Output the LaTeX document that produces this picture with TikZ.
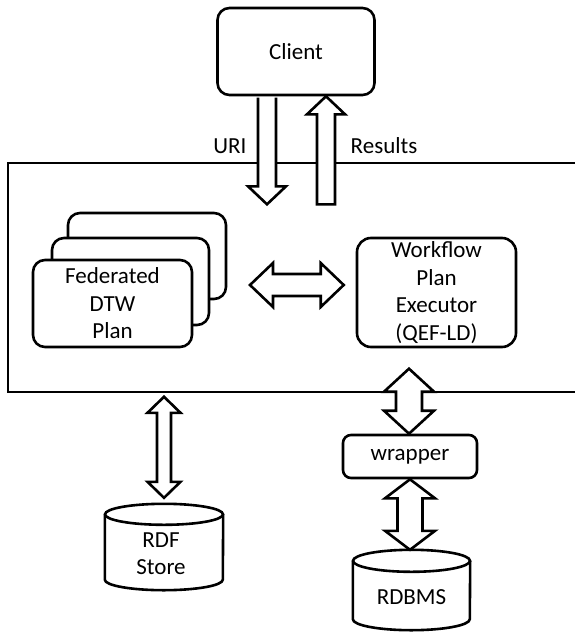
\documentclass[tikz,border=0pt]{standalone}
\usepackage{fontspec}
\setmainfont{Carlito}
\usetikzlibrary{calc}
\pgfdeclarelayer{bg}
\pgfsetlayers{bg,main}

% vertical double block arrow: #1 top tip, #2 bottom tip, #3 shaft half width, #4 head half width, #5 head length
\newcommand\vdblarrow[5]{%
  \draw[blockarrow] (#1) -- ($(#1)+(#4,#5)$) -- ($(#1)+(#3,#5)$) -- ($(#2)+(#3,-#5)$)
    -- ($(#2)+(#4,-#5)$) -- (#2) -- ($(#2)+(-#4,-#5)$) -- ($(#2)+(-#3,-#5)$)
    -- ($(#1)+(-#3,#5)$) -- ($(#1)+(-#4,#5)$) -- cycle;}
% horizontal double block arrow: #1 left tip, #2 right tip
\newcommand\hdblarrow[5]{%
  \draw[blockarrow] (#1) -- ($(#1)+(#5,-#4)$) -- ($(#1)+(#5,-#3)$) -- ($(#2)+(-#5,-#3)$)
    -- ($(#2)+(-#5,-#4)$) -- (#2) -- ($(#2)+(-#5,#4)$) -- ($(#2)+(-#5,#3)$)
    -- ($(#1)+(#5,#3)$) -- ($(#1)+(#5,#4)$) -- cycle;}
% database cylinder drawn around node #1, ellipse radii #2 and #3
\newcommand\dbcylinder[3]{%
  \draw[outline,fill=white] ($(#1.north west)+(0,#3)$) -- ($(#1.south west)+(0,-#3)$)
    arc[start angle=180, end angle=0, x radius=#2, y radius=#3] -- ($(#1.north east)+(0,#3)$);
  \draw[outline] ($(#1.north)+(0,#3)$) ellipse[x radius=#2, y radius=#3];}

\begin{document}
\begin{tikzpicture}[x=1pt,y=-1pt,
  font=\fontsize{23}{27.5}\selectfont,
  outline/.style={draw=black, line width=2.6pt},
  rbox/.style={outline, fill=white, rounded corners=12pt, inner sep=0pt, align=center},
  blockarrow/.style={outline, fill=white, line join=miter},
  txt/.style={inner sep=0pt, align=center}]
\useasboundingbox (0,0) rectangle (575,632);

% enclosing frame, open on the right
\begin{pgfonlayer}{bg}
\draw[outline] (576,163) -- (8,163) -- (8,392) -- (576,392);
\end{pgfonlayer}

% components
\node[rbox, minimum width=157pt, minimum height=87pt] (client) at (296,51.5) {Client};
\node[rbox, minimum width=158pt, minimum height=86pt] (fed3) at (147,256) {};
\node[rbox, minimum width=157pt, minimum height=87pt] (fed2) at (130.5,281.5) {};
\node[rbox, minimum width=159pt, minimum height=87pt] (fed1) at (112.5,303.5) {Federated\\DTW\\Plan};
\node[rbox, minimum width=159pt, minimum height=109pt, rounded corners=14pt] (wfe) at (436.5,292.5)
  {Workflow\\Plan\\Executor\\(QEF-LD)};
\node[rbox, minimum width=134pt, minimum height=43pt, rounded corners=8pt] (wrapper) at (410,456.5) {wrapper};

% databases
\node[minimum width=118pt, minimum height=86pt, inner sep=0pt] (rdf) at (164,547) {};
\dbcylinder{rdf}{59}{10.5}
\node[txt] (rdftxt) at ($(rdf.center)+(-3,6.5)$) {RDF\\Store};
\node[minimum width=117pt, minimum height=80pt, inner sep=0pt] (rdbms) at (411.5,590) {};
\dbcylinder{rdbms}{58.5}{11}
\node[txt] (rdbmstxt) at ($(rdbms.center)+(0,7)$) {RDBMS};

% labels on the client requests
\node[txt] (uri) at (230,146) {URI};
\node[txt] (results) at (384,146) {Results};

% request arrow (down) from the client
\coordinate (uriTop) at ($(client.south)+(-29,1.3)$);
\coordinate (uriTip) at ($(client.south)+(-29,108)$);
\draw[blockarrow] ($(uriTop)+(-9,0)$) -- ($(uriTip)+(-9,-18)$) -- ($(uriTip)+(-19,-18)$) -- (uriTip)
  -- ($(uriTip)+(19,-18)$) -- ($(uriTip)+(9,-18)$) -- ($(uriTop)+(9,0)$);

% results arrow (up) to the client
\coordinate (resTip) at ($(client.south)+(30,0)$);
\coordinate (resBase) at ($(client.south)+(30,108)$);
\draw[blockarrow] ($(resBase)+(-9,0)$) -- ($(resTip)+(-9,18)$) -- ($(resTip)+(-19,18)$) -- (resTip)
  -- ($(resTip)+(19,18)$) -- ($(resTip)+(9,18)$) -- ($(resBase)+(9,0)$) -- cycle;

% plan <-> executor
\coordinate (hL) at (250,285);
\coordinate (hR) at (wfe.west |- hL);
\coordinate (hR) at ($(hR)+(-12,0)$);
\hdblarrow{hL}{hR}{11}{22}{23}

% frame <-> RDF store
\coordinate (rdfTop) at ($(rdf.north)+(0,-107)$);
\coordinate (rdfTip) at ($(rdf.north)+(0,-6)$);
\vdblarrow{rdfTop}{rdfTip}{7}{16.5}{16}

% executor <-> wrapper
\coordinate (wTop) at ($(wrapper.north)+(-1,-65)$);
\coordinate (wTip) at ($(wrapper.north)+(-1,0)$);
\vdblarrow{wTop}{wTip}{13}{25}{23}

% wrapper <-> RDBMS
\coordinate (dTop) at (wrapper.south);
\coordinate (dTip) at (wrapper.south |- rdbms.north);
\vdblarrow{dTop}{dTip}{12.5}{25}{19}
\end{tikzpicture}
\end{document}
